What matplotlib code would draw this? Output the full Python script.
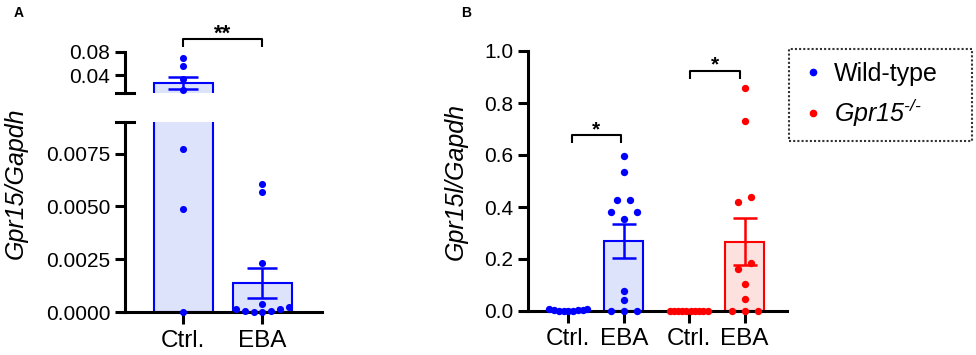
import numpy as np
import matplotlib
matplotlib.use("Agg")
import matplotlib.pyplot as plt
from matplotlib.lines import Line2D

plt.rcParams["font.family"] = ["Liberation Sans", "DejaVu Sans"]
# math text is only used for the italic legend entry
plt.rcParams["mathtext.fontset"] = "custom"
plt.rcParams["mathtext.rm"] = "Liberation Sans:italic"
plt.rcParams["mathtext.it"] = "Liberation Sans:italic"

# panel A: Gpr15/Gapdh, wild-type only
a_groups = ["Ctrl.", "EBA"]
a_ctrl = [0.069, 0.056, 0.0345, 0.015, 0.0077, 0.0049, 0.0]
a_eba = [0.00608, 0.00569, 0.00231, 0.00038, 0.00024, 0.00016,
         0.00016, 0.00008, 0.00008, 0.00001, 0.0]

# panel B: Gpr15l/Gapdh
b_groups = ["Ctrl.", "EBA", "Ctrl.", "EBA"]
b_wt_ctrl = [0.001, 0.008, 0.004, 0.006, 0.002, 0.005, 0.001, 0.001, 0.001]
b_wt_eba = [0.597, 0.535, 0.426, 0.426, 0.381, 0.381, 0.355, 0.076, 0.041,
            0.0, 0.0, 0.0]
b_ko_ctrl = [0.0, 0.0, 0.0, 0.0, 0.0, 0.0, 0.0, 0.0, 0.0, 0.0]
b_ko_eba = [0.858, 0.73, 0.437, 0.42, 0.183, 0.161, 0.103, 0.046, 0.0, 0.0, 0.0]

legend_labels = ["Wild-type", r"$\mathrm{Gpr15}^{\text{-/-}}$"]

BLUE = "#0000ff"
RED = "#ff0000"
BLUE_FILL = "#dde3fb"
RED_FILL = "#fde1de"
W, H = 976, 355


def mean_sem(v):
    v = np.asarray(v, float)
    return v.mean(), v.std(ddof=1) / np.sqrt(len(v))


def swarm_x(ax, x0, vals, step_px, max_px, bin_px):
    # graphpad-like scatter: points in the same row get spread sideways
    vals = np.asarray(vals, float)
    tr = ax.transData
    pts = tr.transform(np.column_stack([np.full(len(vals), x0), vals]))
    ys = pts[:, 1]
    order = np.argsort(ys, kind="stable")
    off = np.zeros(len(vals))
    i = 0
    while i < len(order):
        j = i
        while j + 1 < len(order) and ys[order[j + 1]] - ys[order[i]] < bin_px:
            j += 1
        members = order[i:j + 1]
        n = len(members)
        if n > 1:
            s = min(step_px, max_px / (n - 1))
            slots = (np.arange(n) - (n - 1) / 2) * s
            slots = slots[np.argsort(np.abs(slots), kind="stable")]
            off[members] = slots
        i = j + 1
    back = tr.inverted().transform(np.column_stack([pts[:, 0] + off, ys]))
    return back[:, 0]


def style(ax):
    for s in ["top", "right"]:
        ax.spines[s].set_visible(False)
    for s in ["left", "bottom"]:
        ax.spines[s].set_linewidth(2.2)
    ax.tick_params(width=2.2, length=7.5, labelsize=15, pad=3, color="k")
    ax.tick_params(axis="x", length=8.5, labelsize=17.5, pad=4)


def bracket(ax, x1, x2, y, drop, text, size):
    ax.plot([x1, x1, x2, x2], [y - drop, y, y, y - drop], color="k", lw=1.5,
            clip_on=False, solid_capstyle="butt")
    ax.text((x1 + x2) / 2, y, text, ha="center", va="baseline", fontsize=size,
            fontweight="bold", clip_on=False)


fig = plt.figure(figsize=(W / 100, H / 100), dpi=100)

# ---------- panel A (broken y axis) ----------
axA_lo = fig.add_axes([125 / W, 1 - 312.3 / H, 196.7 / W, 190.5 / H])
axA_hi = fig.add_axes([125 / W, 1 - 93.3 / H, 196.7 / W, 41.6 / H])
a_pos = [0, 1]
a_sets = [a_ctrl, a_eba]
for ax in (axA_lo, axA_hi):
    style(ax)
    ax.set_xlim(-0.738, 1.75)
axA_lo.set_ylim(0, 0.009)
axA_hi.set_ylim(0.01, 0.08)
axA_lo.set_yticks([0, 0.0025, 0.005, 0.0075])
axA_lo.set_yticklabels(["0.0000", "0.0025", "0.0050", "0.0075"])
axA_hi.set_yticks([0.04, 0.08])
axA_hi.set_yticklabels(["0.04", "0.08"])
axA_lo.set_xticks(a_pos)
axA_lo.set_xticklabels(a_groups)
axA_hi.spines["bottom"].set_visible(False)
axA_hi.set_xticks([])

for ax in (axA_lo, axA_hi):
    for x, vals in zip(a_pos, a_sets):
        m, e = mean_sem(vals)
        ax.bar(x, m, width=0.74, color=BLUE_FILL, edgecolor=BLUE, linewidth=1.5,
               zorder=2)
        ax.errorbar(x, m, yerr=e, fmt="none", ecolor=BLUE, elinewidth=1.8,
                    capsize=10.5, capthick=1.8, zorder=3)
    lo, hi = ax.get_ylim()
    for x, vals in zip(a_pos, a_sets):
        v = np.asarray(vals)
        if ax is axA_lo:
            v = v[v <= hi]
        else:
            v = v[v > 0.009]
        if len(v):
            xs = swarm_x(ax, x, v, 9, 53, 7)
            ax.scatter(xs, v, s=26, color=BLUE, linewidths=0, zorder=5,
                       clip_on=False)

# break marks
axA_hi.plot([-0.046, 0.046], [0, 0], transform=axA_hi.transAxes, color="k",
            lw=2.2, clip_on=False)
axA_lo.plot([-0.046, 0.046], [1, 1], transform=axA_lo.transAxes, color="k",
            lw=2.2, clip_on=False)

bracket(axA_hi, 0, 1, 0.1007, 0.0123, "**", 16)

# ---------- panel B ----------
axB = fig.add_axes([528 / W, 1 - 311 / H, 259.3 / W, 260 / H])
style(axB)
b_pos = [0, 1, 2.17, 3.18]
b_sets = [b_wt_ctrl, b_wt_eba, b_ko_ctrl, b_ko_eba]
b_cols = [BLUE, BLUE, RED, RED]
b_fills = [BLUE_FILL, BLUE_FILL, RED_FILL, RED_FILL]
axB.set_xlim(-0.726, 3.95)
axB.set_ylim(0, 1.0)
axB.set_yticks(np.arange(0, 1.01, 0.2))
axB.set_yticklabels([f"{t:.1f}" for t in np.arange(0, 1.01, 0.2)])
axB.set_xticks(b_pos)
axB.set_xticklabels(b_groups)

for x, vals, c, f in zip(b_pos, b_sets, b_cols, b_fills):
    m, e = mean_sem(vals)
    axB.bar(x, m, width=0.70, color=f, edgecolor=c, linewidth=1.5, zorder=2)
    axB.errorbar(x, m, yerr=e, fmt="none", ecolor=c, elinewidth=1.8,
                 capsize=8.5, capthick=1.8, zorder=3)
    xs = swarm_x(axB, x, vals, 13, 38, 8)
    axB.scatter(xs, vals, s=28, color=c, linewidths=0, zorder=5, clip_on=False)

bracket(axB, 0.06, 0.95, 0.677, 0.032, "*", 15)
bracket(axB, 2.2, 3.1, 0.924, 0.032, "*", 15)

# ---------- text ----------
fig.text(19 / W, 1 - 13 / H, "A", fontsize=10, fontweight="bold",
         ha="center", va="center")
fig.text(466 / W, 1 - 13 / H, "B", fontsize=10, fontweight="bold",
         ha="center", va="center")
fig.text(16 / W, 1 - 183 / H, "Gpr15/Gapdh", rotation=90, fontsize=18,
         style="italic", ha="center", va="center")
fig.text(456 / W, 1 - 182 / H, "Gpr15l/Gapdh", rotation=90, fontsize=18,
         style="italic", ha="center", va="center")

handles = [Line2D([], [], marker="o", ls="none", color=c, markersize=4.5)
           for c in (BLUE, RED)]
leg = fig.legend(handles, legend_labels, loc="upper left",
                 bbox_to_anchor=(789 / W, 1 - 140 / H, 183 / W, 91 / H),
                 mode="expand", borderaxespad=0, fontsize=18, frameon=True,
                 fancybox=False, borderpad=0.5, labelspacing=0.45,
                 handlelength=0.9, handletextpad=0.4)
fr = leg.get_frame()
fr.set_edgecolor("k")
fr.set_linewidth(1.5)
fr.set_linestyle((0, (1, 1)))

fig.savefig("out.png", dpi=100)
